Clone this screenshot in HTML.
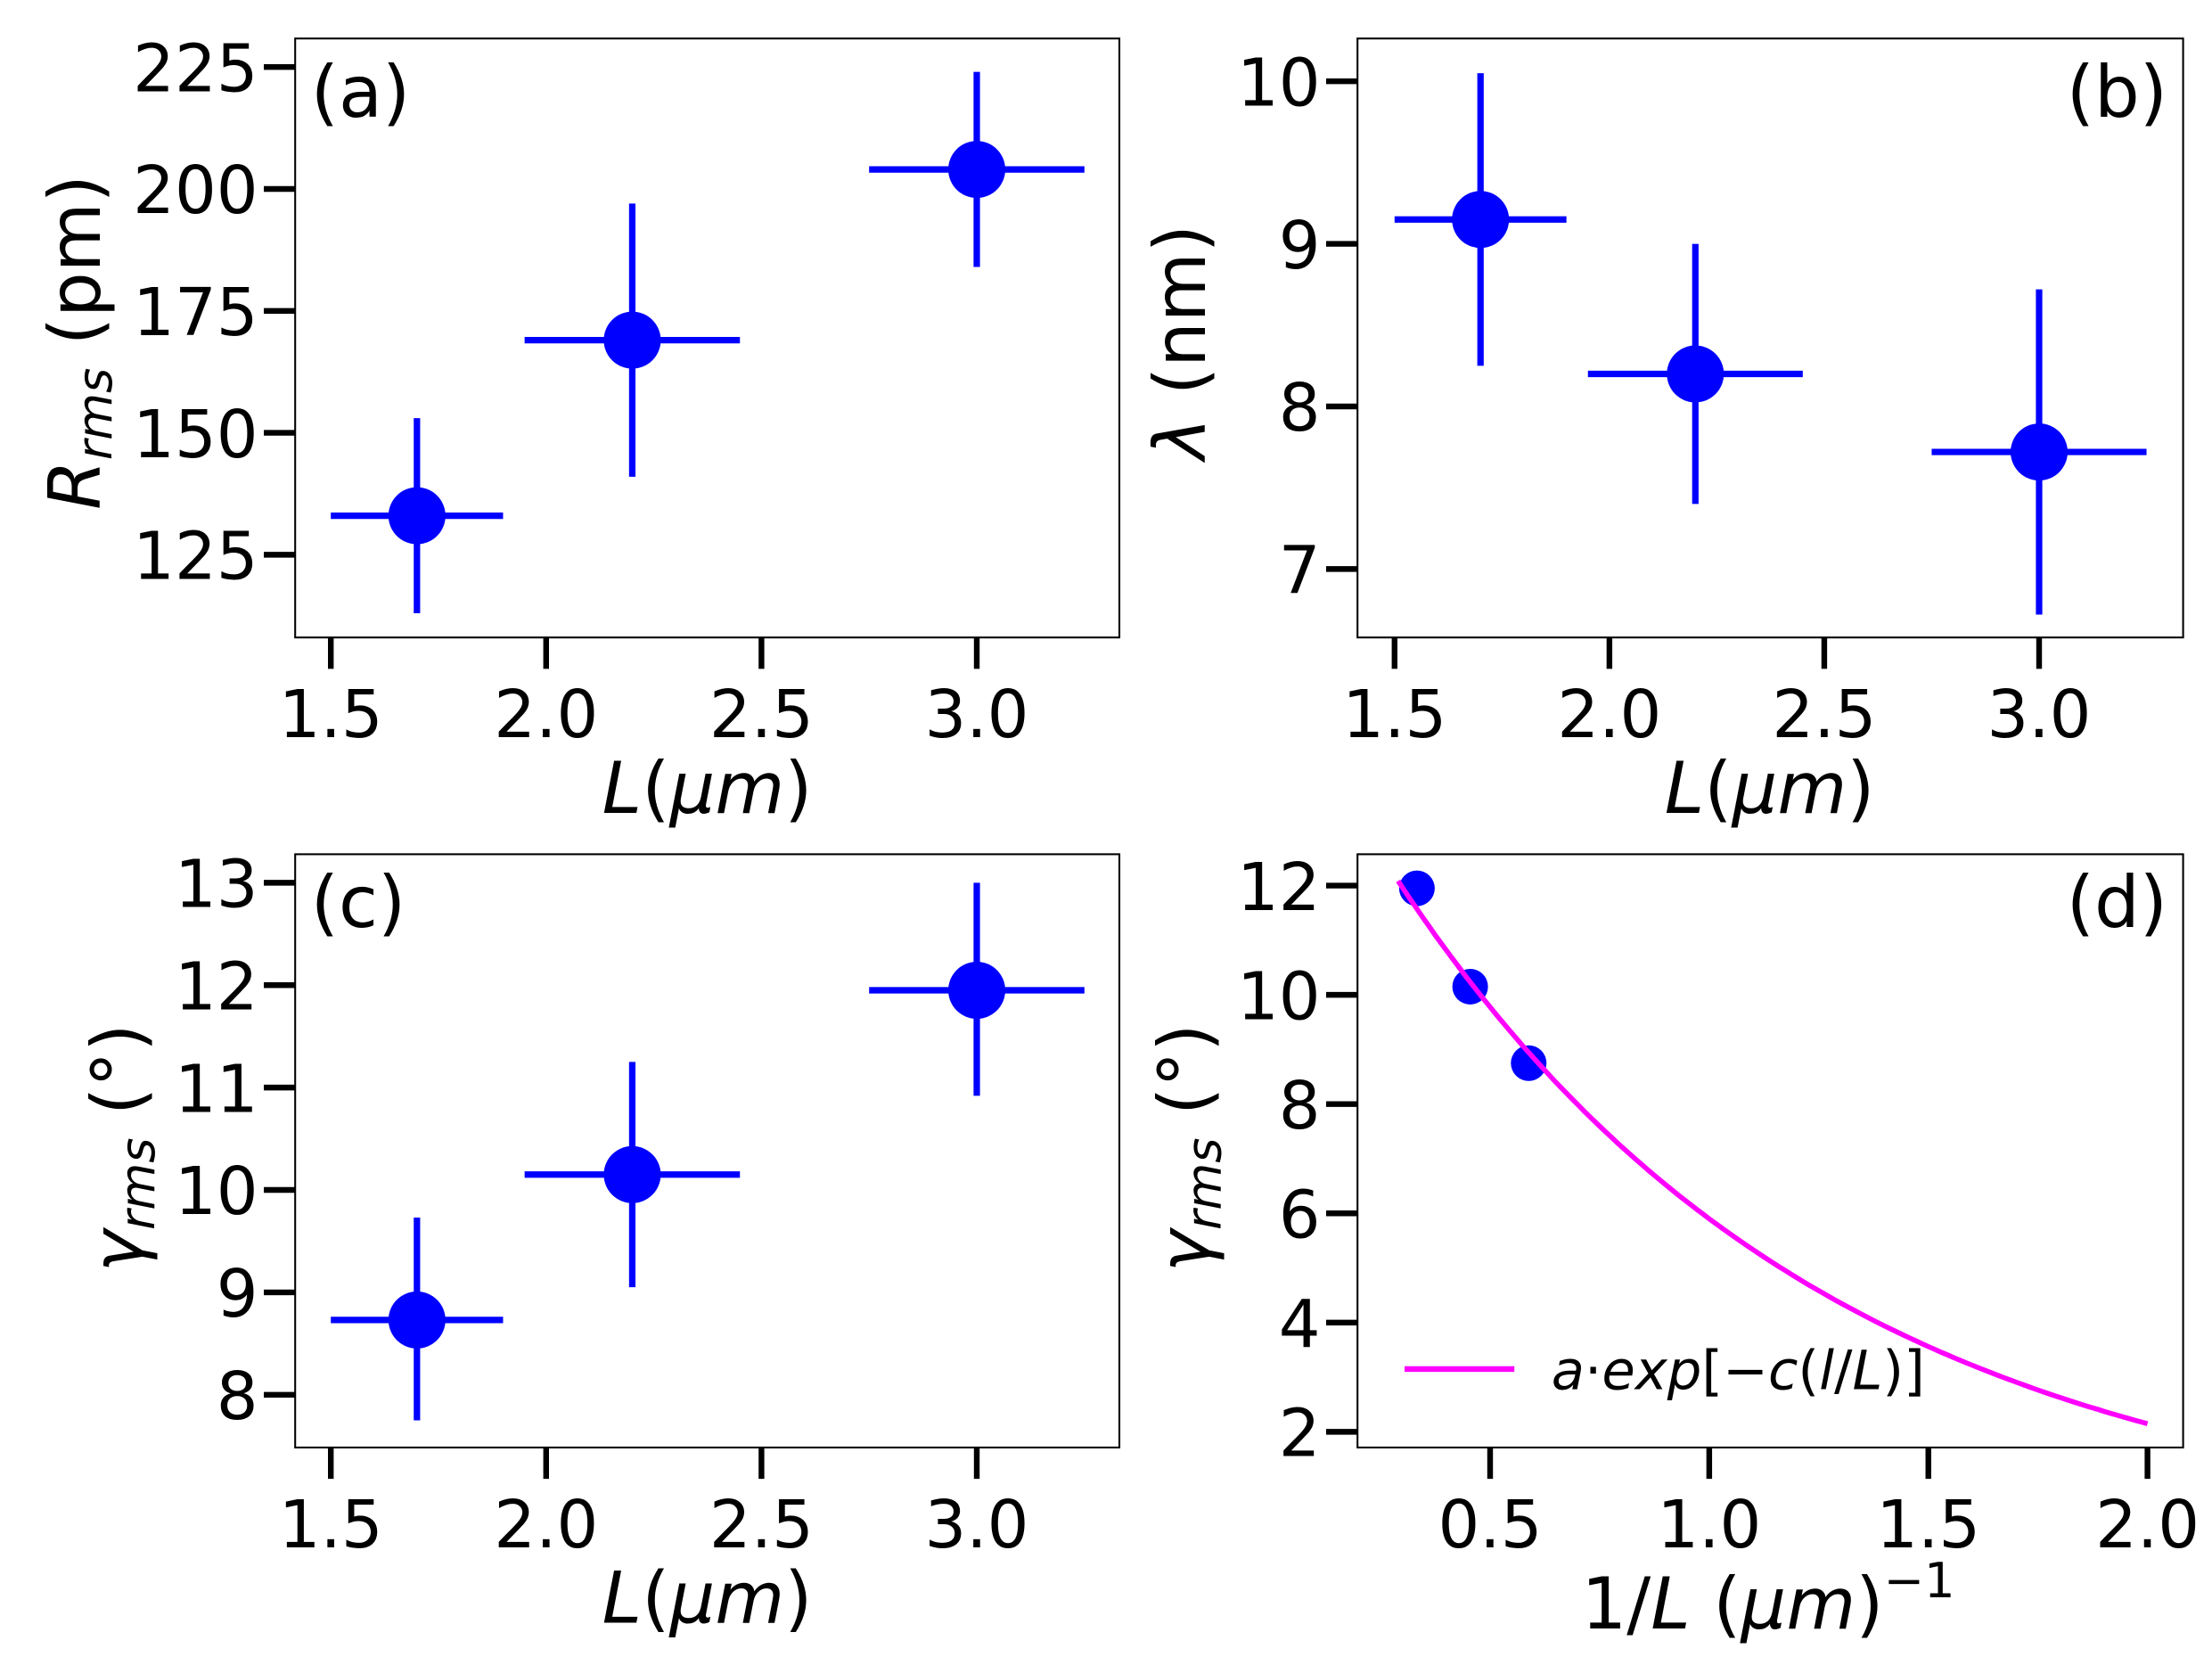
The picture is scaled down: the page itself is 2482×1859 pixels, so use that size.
<!DOCTYPE html>
<html><head><meta charset="utf-8"><style>
html,body{margin:0;padding:0;background:#fff}
svg{display:block}
text{font-family:"DejaVu Sans","Liberation Sans",sans-serif;fill:#000}
.t{font-size:46px}
.lab{font-size:50px}
.it{font-style:italic}
</style></head><body>
<svg id="s" width="2482" height="1859" viewBox="0 0 1551.25 1161.9" preserveAspectRatio="none" xmlns="http://www.w3.org/2000/svg">
<rect width="1552" height="1162" fill="#fff"/>
<g id="g"></g>
<text class="lab" x="218" y="82">(a)</text>
<text class="lab" x="1520" y="82" text-anchor="end">(b)</text>
<text class="lab" x="218" y="650">(c)</text>
<text class="lab" x="1520" y="650" text-anchor="end">(d)</text>
<text class="lab" x="496" y="570" text-anchor="middle"><tspan class="it">L</tspan>(<tspan class="it">μm</tspan>)</text>
<text class="lab" x="1241" y="570" text-anchor="middle"><tspan class="it">L</tspan>(<tspan class="it">μm</tspan>)</text>
<text class="lab" x="496" y="1138" text-anchor="middle"><tspan class="it">L</tspan>(<tspan class="it">μm</tspan>)</text>
<text class="lab" x="1240" y="1142" text-anchor="middle">1/<tspan class="it">L</tspan> (<tspan class="it">μm</tspan>)<tspan dy="-22" font-size="34">−1</tspan></text>
<text class="lab" transform="translate(70,240) rotate(-90)" text-anchor="middle"><tspan class="it">R</tspan><tspan class="it" font-size="34" dy="8">rms</tspan><tspan dy="-8"> (pm)</tspan></text>
<text class="lab" transform="translate(845,240) rotate(-90)" text-anchor="middle"><tspan class="it">λ</tspan> (nm)</text>
<text class="lab" transform="translate(100,805) rotate(-90)" text-anchor="middle"><tspan class="it">γ</tspan><tspan class="it" font-size="34" dy="8">rms</tspan><tspan dy="-8"> (°)</tspan></text>
<text class="lab" transform="translate(848,805) rotate(-90)" text-anchor="middle"><tspan class="it">γ</tspan><tspan class="it" font-size="34" dy="8">rms</tspan><tspan dy="-8"> (°)</tspan></text>
<line x1="985" y1="960" x2="1062" y2="960" stroke="#ff00ff" stroke-width="4"/>
<text x="1088" y="974" font-size="38"><tspan class="it">a</tspan>·<tspan class="it">exp</tspan>[−<tspan class="it">c</tspan>(<tspan class="it">l</tspan>/<tspan class="it">L</tspan>)]</text>
</svg>
<script>
const g=document.getElementById('g');const NS='http://www.w3.org/2000/svg';
function el(t,a){const e=document.createElementNS(NS,t);for(const k in a)e.setAttribute(k,a[k]);g.appendChild(e);return e;}
function txt(x,y,s,anchor){const e=el('text',{x:x,y:y,class:'t','text-anchor':anchor});e.textContent=s;}
function panel(p){
 el('rect',{x:p.x0,y:p.y0,width:p.x1-p.x0,height:p.y1-p.y0,fill:'none',stroke:'#000','stroke-width':1.3});
 p.xt.forEach(([v,l])=>{const X=p.fx(v);el('line',{x1:X,y1:p.y1,x2:X,y2:p.y1+22,stroke:'#000','stroke-width':4});txt(X,p.y1+70,l,'middle');});
 p.yt.forEach(([v,l])=>{const Y=p.fy(v);el('line',{x1:p.x0-22,y1:Y,x2:p.x0,y2:Y,stroke:'#000','stroke-width':4});txt(p.x0-26,Y+17,l,'end');});
}
function lin(a0,p0,a1,p1){return v=>p0+(v-a0)*(p1-p0)/(a1-a0);}
const fxL=lin(1.5,232,3.0,685), fxB=lin(1.5,978,3.0,1430);
const xtL=[[1.5,'1.5'],[2.0,'2.0'],[2.5,'2.5'],[3.0,'3.0']];
function errpts(fx,fy,data){data.forEach(([x,y,xe,ylo,yhi])=>{
 el('line',{x1:fx(x-xe),y1:fy(y),x2:fx(x+xe),y2:fy(y),stroke:'#0000ff','stroke-width':4.5});
 el('line',{x1:fx(x),y1:fy(ylo),x2:fx(x),y2:fy(yhi),stroke:'#0000ff','stroke-width':4.5});
 el('circle',{cx:fx(x),cy:fy(y),r:20,fill:'#0000ff'});});}
let fy=lin(125,389,225,47);
panel({x0:207,x1:785,y0:27,y1:447,fx:fxL,fy:fy,xt:xtL,yt:[[125,'125'],[150,'150'],[175,'175'],[200,'200'],[225,'225']]});
errpts(fxL,fy,[[1.7,133,0.2,113,153],[2.2,169,0.25,141,197],[3.0,204,0.25,184,224]]);
fy=lin(7,399,10,57);
panel({x0:952,x1:1531,y0:27,y1:447,fx:fxB,fy:fy,xt:xtL,yt:[[7,'7'],[8,'8'],[9,'9'],[10,'10']]});
errpts(fxB,fy,[[1.7,9.15,0.2,8.25,10.05],[2.2,8.2,0.25,7.4,9.0],[3.0,7.72,0.25,6.72,8.72]]);
fy=lin(8,978,13,619);
panel({x0:207,x1:785,y0:599,y1:1015,fx:fxL,fy:fy,xt:xtL,yt:[[8,'8'],[9,'9'],[10,'10'],[11,'11'],[12,'12'],[13,'13']]});
errpts(fxL,fy,[[1.7,8.73,0.2,7.75,9.73],[2.2,10.15,0.25,9.05,11.25],[3.0,11.95,0.25,10.92,13.0]]);
const fxD=lin(0.5,1045,2.0,1506); fy=lin(2,1004,12,621);
panel({x0:952,x1:1531,y0:599,y1:1015,fx:fxD,fy:fy,xt:[[0.5,'0.5'],[1.0,'1.0'],[1.5,'1.5'],[2.0,'2.0']],yt:[[2,'2'],[4,'4'],[6,'6'],[8,'8'],[10,'10'],[12,'12']]});
[[0.333,11.95],[0.4545,10.15],[0.588,8.75]].forEach(([x,y])=>el('circle',{cx:fxD(x),cy:fy(y),r:12.5,fill:'#0000ff'}));
let d='';for(let i=0;i<=120;i++){const x=0.29+(2.0-0.29)*i/120;const y=16.2*Math.exp(-1.01*x);d+=(i?'L':'M')+fxD(x).toFixed(1)+','+fy(y).toFixed(1);}
el('path',{d:d,fill:'none',stroke:'#ff00ff','stroke-width':3.5});
</script>
</body></html>
